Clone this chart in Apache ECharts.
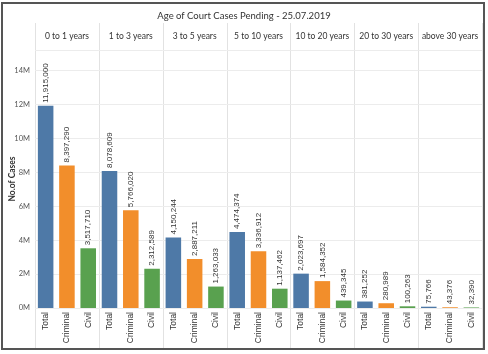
<!DOCTYPE html>
<html>
<head>
<meta charset="utf-8">
<script src="https://cdn.jsdelivr.net/npm/echarts@6/dist/echarts.min.js"></script>
<style>html,body{margin:0;padding:0;background:#fff;}#c{width:488px;height:354px;}</style>
</head>
<body>
<div id="c"></div>
<script>
const titleText = 'Age of Court Cases Pending - 25.07.2019';
const groups = ['0 to 1 years', '1 to 3 years', '3 to 5 years', '5 to 10 years', '10 to 20 years', '20 to 30 years', 'above 30 years'];
const caseTypes = ['Total', 'Criminal', 'Civil'];
const totalCases    = [11915000, 8078609, 4150244, 4474374, 2023697, 381252, 75766];
const criminalCases = [8397290, 5766020, 2887211, 3336912, 1584352, 280989, 43376];
const civilCases    = [3517710, 2312589, 1263033, 1137462, 439345, 100263, 32390];
const typeColors = ['#4e79a7', '#f28e2b', '#59a14f'];
const yTicks = [0, 2e6, 4e6, 6e6, 8e6, 10e6, 12e6, 14e6];

const FONT = 'Lato';
const plotLeft = 35, plotRight = 482, plotTop = 50, plotBottomY = 308, H = 354;
const panelW = (plotRight - plotLeft) / groups.length;

const grids = [], xAxes = [], yAxes = [], series = [], graphics = [];
groups.forEach((g, i) => {
  grids.push({ left: plotLeft + i * panelW, width: panelW, top: plotTop, bottom: H - plotBottomY, containLabel: false });
  xAxes.push({
    type: 'category', gridIndex: i, position: 'bottom', data: caseTypes,
    axisLine: { show: false }, axisTick: { show: false },
    axisLabel: { rotate: 90, fontSize: 8.5, color: '#333', fontFamily: 'Liberation Sans', margin: 4, interval: 0 }
  });
  xAxes.push({
    type: 'category', gridIndex: i, position: 'top', data: [g],
    axisLine: { show: false }, axisTick: { show: false },
    axisLabel: { fontSize: 8.5, color: '#333', fontFamily: FONT, margin: 9 }
  });
  yAxes.push({
    type: 'value', gridIndex: i, min: 0, max: 15.2e6, interval: 2e6,
    axisLine: { show: false }, axisTick: { show: false },
    splitLine: { show: true, lineStyle: { color: '#ececec', width: 1 } },
    axisLabel: {
      show: i === 0, fontSize: 7.5, color: '#555', fontFamily: FONT, margin: 5,
      formatter: v => yTicks.includes(v) ? (v / 1e6) + 'M' : ''
    },
    name: i === 0 ? 'No.of Cases' : '', nameLocation: 'middle', nameGap: 18, nameMoveOverlap: false,
    nameTextStyle: { fontSize: 8.5, fontWeight: 'bold', color: '#333', fontFamily: FONT }
  });
  const vals = [totalCases[i], criminalCases[i], civilCases[i]];
  series.push({
    type: 'bar', xAxisIndex: i * 2, yAxisIndex: i, barWidth: '73%',
    data: vals.map((v, k) => ({ value: v, itemStyle: { color: typeColors[k] } })),
    label: {
      show: true, position: 'top', rotate: 90, align: 'left', verticalAlign: 'middle', distance: 3,
      fontSize: 8, color: '#333', fontFamily: 'Liberation Sans',
      formatter: p => p.value.toLocaleString('en-US')
    }
  });
});
for (let i = 0; i <= groups.length; i++) {
  const x = Math.round(plotLeft + i * panelW) + 0.5;
  graphics.push({ type: 'line', shape: { x1: x, y1: 23, x2: x, y2: 348 }, style: { stroke: '#e2e2e2', lineWidth: 1 }, z: -1 });
}
graphics.push({ type: 'rect', shape: { x: 2, y: 3, width: 482, height: 346 }, style: { fill: 'none', stroke: '#555', lineWidth: 2 }, z: 10 });

const chart = echarts.init(document.getElementById('c'));
chart.setOption({
  animation: false,
  backgroundColor: '#fff',
  title: { text: titleText, left: 'center', top: 6, textStyle: { fontSize: 9.5, fontWeight: 'normal', color: '#333', fontFamily: FONT } },
  grid: grids, xAxis: xAxes, yAxis: yAxes, series: series, graphic: graphics
});
</script>
</body>
</html>
